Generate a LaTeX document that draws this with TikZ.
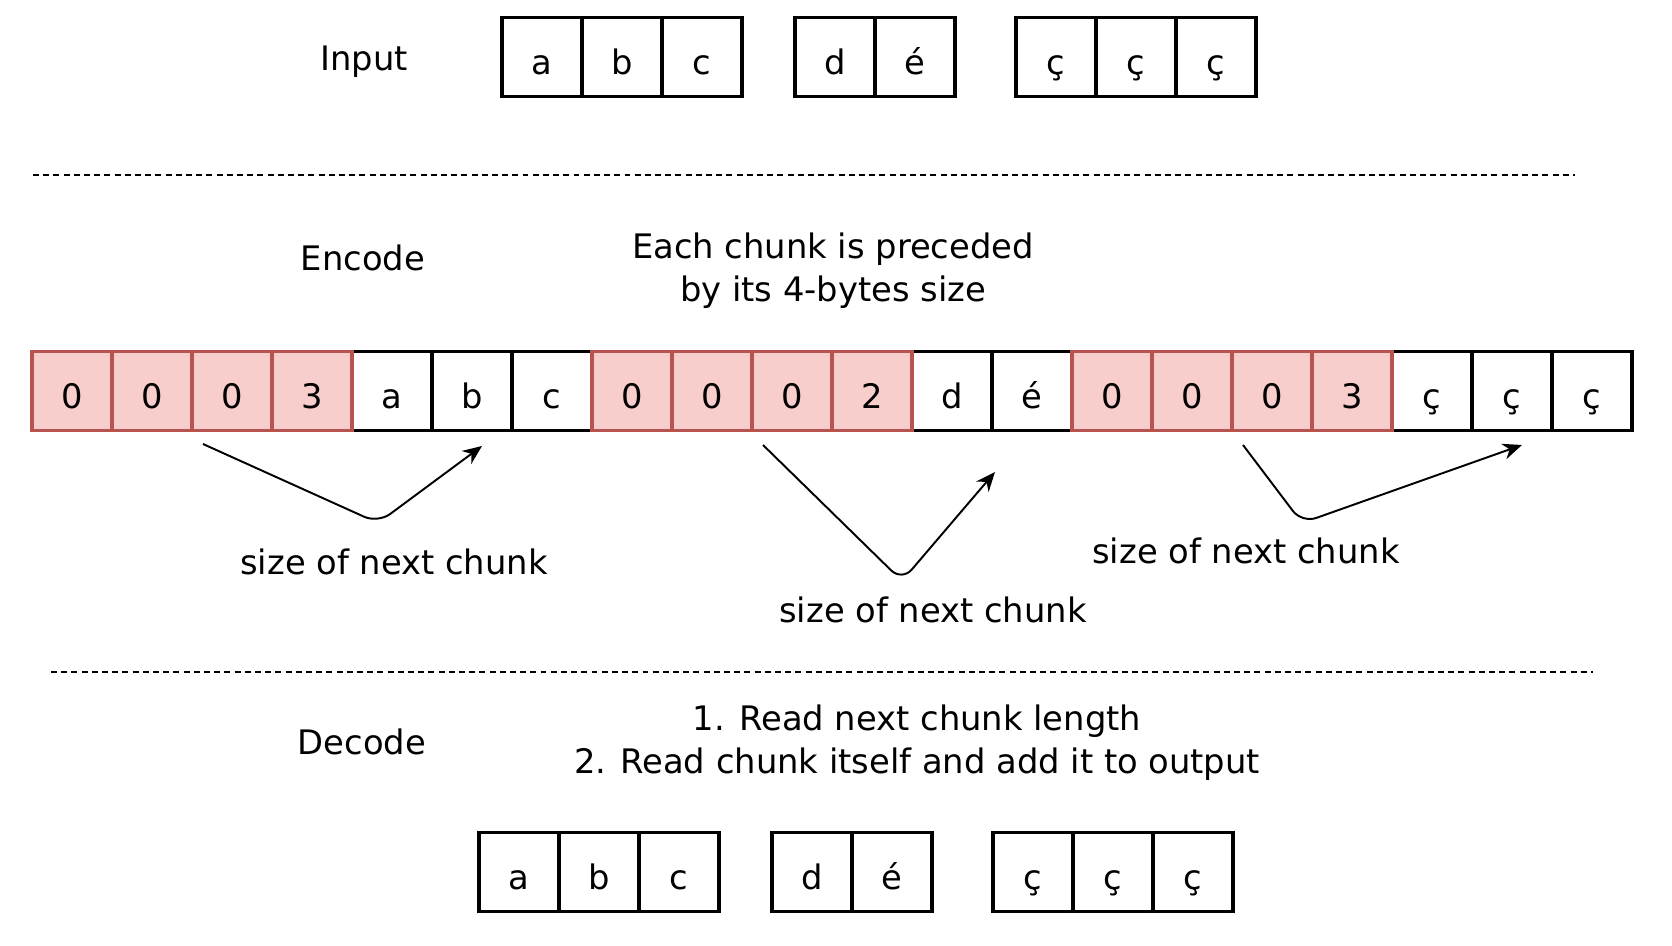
\documentclass[tikz,border=0pt]{standalone}
\usepackage{fontspec}
\setmainfont{DejaVu Sans}
\usepackage[HTML]{xcolor}
\usetikzlibrary{positioning, arrows.meta}
\definecolor{lenfill}{HTML}{F8CECC}
\definecolor{lendraw}{HTML}{B85450}

\begin{document}
\begin{tikzpicture}[x=0.01cm, y=-0.01cm,
  every node/.style={font=\fontsize{9.6}{12.2}\selectfont},
  byte/.style={draw=black, line width=1pt, minimum width=0.80cm, minimum height=0.79cm,
    inner sep=0pt, outer sep=0pt, text height=1.9ex, text depth=0.1ex},
  databyte/.style={byte, fill=white},
  lenbyte/.style={byte, fill=lenfill, draw=lendraw},
  sep/.style={line width=0.6pt, dash pattern=on 1.7pt off 1.2pt},
  hint/.style={-{Stealth[length=5.5pt, width=4.6pt]}, line width=0.55pt, rounded corners=0.15cm}]

\useasboundingbox (0,0) rectangle (1672,946);

% --- Input ---
\node (inlbl) at (364, 62) {Input};
\foreach \t/\i/\x in {a/1/542, b/2/622, c/3/702, d/4/835, é/5/915, ç/6/1056, ç/7/1136, ç/8/1216}
  \node[databyte] (in\i) at (\x, 57) {\t};

\draw[sep] (33,175) -- (1575,175);

% --- Encode ---
\node (enclbl) at (363, 258) {Encode};
\node[align=center] (encnote) at (833, 271) {Each chunk is preceded\\by its 4-bytes size};

% data bytes first, then the 4-byte length prefixes on top
\foreach \t/\i in {a/5, b/6, c/7, d/12, é/13, ç/18, ç/19, ç/20}
  \node[databyte] (enc\i) at ({32+80*(\i-0.5)}, 391) {\t};
\foreach \t/\i in {0/1, 0/2, 0/3, 3/4, 0/8, 0/9, 0/10, 2/11, 0/14, 0/15, 0/16, 3/17}
  \node[lenbyte] (enc\i) at ({32+80*(\i-0.5)}, 391) {\t};

% size hints under each prefix
\coordinate (s1) at (203, 444);  \coordinate (k1) at (378, 523);  \coordinate (t1) at (482, 446);
\coordinate (s2) at (763, 445);  \coordinate (k2) at (902, 581);  \coordinate (t2) at (995, 472);
\coordinate (s3) at (1243, 445); \coordinate (k3) at (1302, 523); \coordinate (t3) at (1522, 445);
\draw[hint] (s1) -- (k1) -- (t1);
\draw[hint] (s2) -- (k2) -- (t2);
\draw[hint] (s3) -- (k3) -- (t3);
\node (lbl1) at (394, 562) {size of next chunk};
\node (lbl2) at (933, 610) {size of next chunk};
\node (lbl3) at (1246, 551) {size of next chunk};

\draw[sep] (51,672) -- (1593,672);

% --- Decode ---
\node (declbl) at (362, 742) {Decode};
\node[align=center] (decnote) at (917, 743) {1. Read next chunk length\\2. Read chunk itself and add it to output};
\foreach \t/\i/\x in {a/1/519, b/2/599, c/3/679, d/4/812, é/5/892, ç/6/1033, ç/7/1113, ç/8/1193}
  \node[databyte] (out\i) at (\x, 872) {\t};

\end{tikzpicture}
\end{document}
